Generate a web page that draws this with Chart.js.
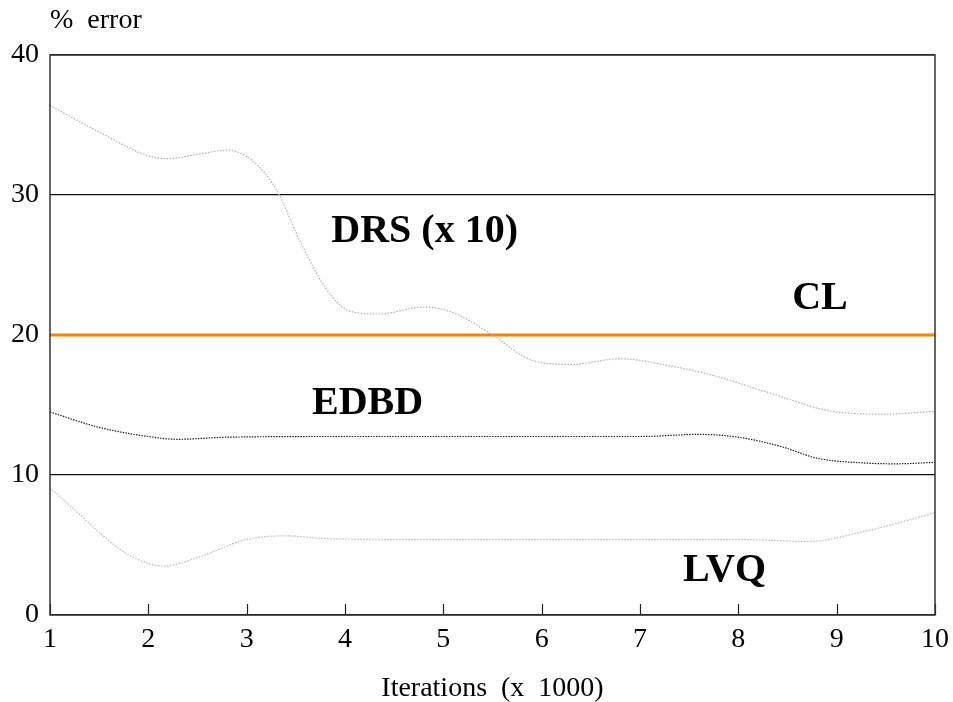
<!DOCTYPE html>
<html>
<head>
<meta charset="utf-8">
<script src="https://cdn.jsdelivr.net/npm/chart.js@4"></script>
<style>
html,body{margin:0;padding:0;background:#fff;}
#wrap{width:953px;height:702px;position:relative;}
</style>
</head>
<body>
<div id="wrap"><canvas id="c" width="953" height="702"></canvas></div>
<script>
// ---- data ----
const xTicks = [1, 2, 3, 4, 5, 6, 7, 8, 9, 10];
const yTicks = [0, 10, 20, 30, 40];

const drsX = [1, 1.5, 2, 2.2, 2.5, 2.8, 3.05, 3.3, 3.55, 3.8, 4.05, 4.35, 4.8, 5.1, 5.5, 5.9, 6.3, 6.8, 7.3, 7.7, 8.3, 9.0, 9.5, 10];
const drsY = [36.4, 34.5, 32.8, 32.6, 32.9, 33.2, 32.5, 30.4, 26.6, 23.4, 21.7, 21.5, 22.0, 21.6, 20.0, 18.2, 17.9, 18.3, 17.8, 17.2, 15.9, 14.5, 14.35, 14.55];

const edbdX = [1, 1.5, 2.0, 2.3, 2.8, 4, 5, 6, 7, 7.6, 8.0, 8.45, 8.8, 9.3, 9.6, 10];
const edbdY = [14.5, 13.4, 12.75, 12.55, 12.7, 12.75, 12.75, 12.75, 12.75, 12.9, 12.7, 12.0, 11.2, 10.85, 10.8, 10.9];

const lvqX = [1, 1.3, 1.5, 1.8, 2.15, 2.5, 3.0, 3.4, 3.85, 5, 6, 7, 8, 8.7, 9.3, 10];
const lvqY = [9.1, 7.2, 5.9, 4.3, 3.5, 4.1, 5.4, 5.65, 5.45, 5.4, 5.4, 5.4, 5.4, 5.25, 6.0, 7.3];

const clX = [1, 10];
const clY = [20, 20];

const labelTexts = ["DRS (x 10)", "CL", "EDBD", "LVQ"];
const labelX = [4.81, 8.83, 4.23, 7.86];
const labelY = [27.36, 22.6, 15.1, 3.2];

const yTitle = "%  error";
const xTitle = "Iterations  (x  1000)";

const pts = (xs, ys) => xs.map((x, i) => ({x: x, y: ys[i]}));

const SERIF = "'Liberation Serif', 'Times New Roman', 'DejaVu Serif', serif";

const decor = {
  id: 'decor',
  beforeDatasetsDraw(chart) {
    const ctx = chart.ctx, a = chart.chartArea;
    const xs = chart.scales.x;
    ctx.save();
    // inward ticks on bottom axis
    ctx.strokeStyle = '#222';
    ctx.lineWidth = 1.2;
    xTicks.forEach(v => {
      const px = Math.round(xs.getPixelForValue(v)) + 0.5;
      ctx.beginPath();
      ctx.moveTo(px, a.bottom);
      ctx.lineTo(px, a.bottom - 11);
      ctx.stroke();
    });
    ctx.restore();
  },
  afterDraw(chart) {
    const ctx = chart.ctx, a = chart.chartArea;
    const xs = chart.scales.x, ys = chart.scales.y;
    ctx.save();
    // frame
    ctx.strokeStyle = '#333';
    ctx.lineWidth = 1.5;
    ctx.strokeRect(a.left, a.top, a.right - a.left, a.bottom - a.top);
    // annotations
    ctx.fillStyle = '#000';
    ctx.font = "bold 40px " + SERIF;
    ctx.textAlign = 'center';
    ctx.textBaseline = 'middle';
    labelTexts.forEach((t, i) => {
      ctx.fillText(t, xs.getPixelForValue(labelX[i]), ys.getPixelForValue(labelY[i]));
    });
    // axis titles
    ctx.font = "28px " + SERIF;
    ctx.textAlign = 'left';
    ctx.fillText(yTitle, a.left, 21);
    ctx.textAlign = 'center';
    ctx.fillText(xTitle, (a.left + a.right) / 2, 689);
    ctx.restore();
  }
};

new Chart(document.getElementById('c'), {
  type: 'scatter',
  data: {
    datasets: [
      {label: 'DRS (x 10)', data: pts(drsX, drsY), showLine: true, borderColor: '#b0b0b0', borderWidth: 1.2, borderDash: [1.5, 1.5], pointRadius: 0, cubicInterpolationMode: 'monotone', fill: false},
      {label: 'EDBD', data: pts(edbdX, edbdY), showLine: true, borderColor: '#222', borderWidth: 1.2, borderDash: [1.5, 1.2], pointRadius: 0, cubicInterpolationMode: 'monotone', fill: false},
      {label: 'LVQ', data: pts(lvqX, lvqY), showLine: true, borderColor: '#b8b8b8', borderWidth: 1.2, borderDash: [1.5, 1.5], pointRadius: 0, cubicInterpolationMode: 'monotone', fill: false},
      {label: 'CL', data: pts(clX, clY), showLine: true, borderColor: '#ff8000', borderWidth: 3, pointRadius: 0, fill: false}
    ]
  },
  options: {
    responsive: false,
    animation: false,
    events: [],
    layout: {padding: {left: 0, right: 17, top: 55, bottom: 0}},
    plugins: {legend: {display: false}, tooltip: {enabled: false}, title: {display: false}},
    scales: {
      x: {
        type: 'linear', min: 1, max: 10,
        afterBuildTicks: s => { s.ticks = xTicks.map(v => ({value: v})); },
        afterFit: s => { s.height = 87; },
        grid: {display: false, drawTicks: false},
        border: {display: false},
        ticks: {color: '#000', padding: 4, maxRotation: 0, autoSkip: false, font: {family: SERIF, size: 28, lineHeight: 1.5}}
      },
      y: {
        type: 'linear', min: 0, max: 40,
        afterBuildTicks: s => { s.ticks = yTicks.map(v => ({value: v})); },
        afterFit: s => { s.width = 50; },
        grid: {color: '#111', lineWidth: 1.2, drawTicks: false},
        border: {display: false},
        ticks: {color: '#000', padding: 11, font: {family: SERIF, size: 28}}
      }
    }
  },
  plugins: [decor]
});
</script>
</body>
</html>
